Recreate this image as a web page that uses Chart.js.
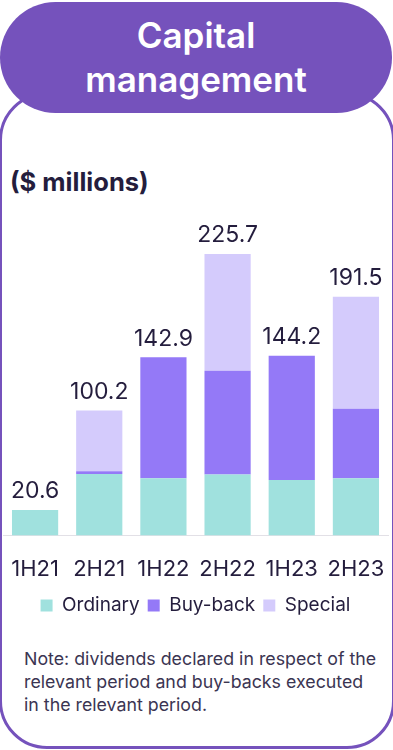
<!DOCTYPE html>
<html>
<head>
<meta charset="utf-8">
<script src="https://cdn.jsdelivr.net/npm/chart.js@4.4.0/dist/chart.umd.min.js"></script>
<style>
  html, body { margin: 0; padding: 0; background: #fff; }
  body { width: 393px; height: 750px; position: relative; overflow: hidden; font-family: Inter, "Noto Sans", sans-serif; color: #241d3d; }
  #card {
    position: absolute; left: -1px; top: 92px; width: 390px; height: 651px;
    border: 3px solid #7552bc; border-radius: 48px; background: #fff;
  }
  #header {
    position: absolute; left: 0; top: 2px; width: 392px; height: 111px;
    background: #7552bc; border-radius: 56px; color: #fff; text-align: center;
    font-size: 35px; font-weight: 600; line-height: 44px; padding-top: 11px; box-sizing: border-box;
  }
  #unit { position: absolute; left: 10px; top: 166px; font-size: 25.5px; font-weight: 700; }
  #wrap { position: absolute; left: 0; top: 220px; width: 393px; height: 410px; }
  #note { position: absolute; left: 24px; top: 647px; width: 365px; font-size: 17.8px; line-height: 23px; color: #3b3552; }
</style>
</head>
<body>
<div id="card"></div>
<div id="header">Capital<br>management</div>
<div id="unit">($ millions)</div>
<div id="wrap"><canvas id="chart"></canvas></div>
<div id="note">Note: dividends declared in respect of the<br>relevant period and buy-backs executed<br>in the relevant period.</div>
<script>
// chart data
const periods = ["1H21", "2H21", "1H22", "2H22", "1H23", "2H23"];
const ordinary = [20.6, 49.3, 45.9, 49.0, 44.5, 45.9];
const buyBack = [0, 2.2, 97.0, 83.1, 99.7, 55.7];
const special = [0, 48.7, 0, 93.6, 0, 89.9];
const totals = ["20.6", "100.2", "142.9", "225.7", "144.2", "191.5"];

// Draw the total above each stacked bar
const totalLabels = {
  id: "totalLabels",
  afterDatasetsDraw(chart) {
    const ctx = chart.ctx;
    const yScale = chart.scales.y;
    const xScale = chart.scales.x;
    ctx.save();
    ctx.font = "23px Inter, sans-serif";
    ctx.fillStyle = "#241d3d";
    ctx.textAlign = "center";
    ctx.textBaseline = "bottom";
    periods.forEach((p, i) => {
      const sum = ordinary[i] + buyBack[i] + special[i];
      const x = xScale.getPixelForValue(i);
      const y = yScale.getPixelForValue(sum);
      ctx.fillText(totals[i], x, y - 7);
    });
    ctx.restore();
  }
};

new Chart(document.getElementById("chart"), {
  type: "bar",
  data: {
    labels: periods,
    datasets: [
      { label: "Ordinary", data: ordinary, backgroundColor: "#a0e1de" },
      { label: "Buy-back", data: buyBack, backgroundColor: "#9479f7" },
      { label: "Special", data: special, backgroundColor: "#d4cbfc" }
    ]
  },
  options: {
    responsive: true,
    maintainAspectRatio: false,
    animation: false,
    layout: { padding: { left: 3, right: 5, top: 0, bottom: 5 } },
    datasets: { bar: { barPercentage: 0.72, categoryPercentage: 1 } },
    scales: {
      x: {
        stacked: true,
        // invisible tick marks push the labels down without adding side padding
        grid: { drawOnChartArea: false, drawTicks: true, tickLength: 16, tickColor: "rgba(0,0,0,0)" },
        border: { color: "#e2e0e6" },
        ticks: { color: "#241d3d", font: { family: "Inter", size: 22 }, padding: 5, maxRotation: 0, minRotation: 0, autoSkip: false }
      },
      y: { stacked: true, display: false, min: 0, max: 253 }
    },
    plugins: {
      legend: {
        position: "bottom",
        labels: { boxWidth: 12, boxHeight: 12, color: "#241d3d", font: { family: "Inter", size: 19 }, padding: 8 }
      },
      tooltip: { enabled: false }
    }
  },
  plugins: [totalLabels]
});
</script>
</body>
</html>
